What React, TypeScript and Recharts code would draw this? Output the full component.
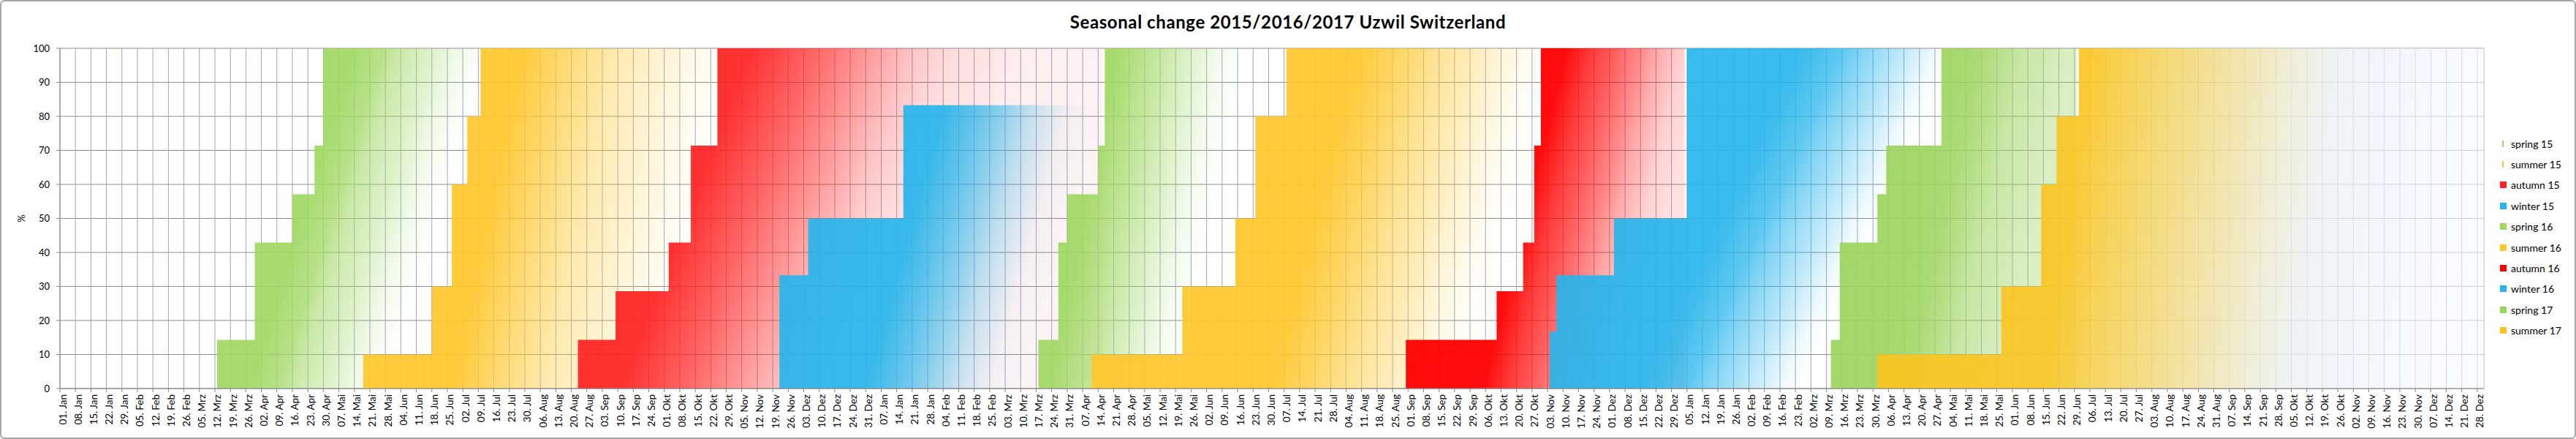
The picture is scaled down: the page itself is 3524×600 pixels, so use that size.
import React from 'react';
import { AreaChart, Area, XAxis, YAxis, CartesianGrid } from 'recharts';

const FONT = 'Lato, "Open Sans", sans-serif';
const MONTHS = ['Jan', 'Feb', 'Mrz', 'Apr', 'Mai', 'Jun', 'Jul', 'Aug', 'Sep', 'Okt', 'Nov', 'Dez'];
const START = '2015-01-01';
const END = '2017-12-31';
const Y_TICKS = [0, 10, 20, 30, 40, 50, 60, 70, 80, 90, 100];

// [date the level is reached, % of season indicators seen]; last entry = end of the series
type Step = [string, number];

const spring15: Step[] = [['2015-03-13', 14.3], ['2015-03-30', 42.9], ['2015-04-16', 57.1], ['2015-04-26', 71.4], ['2015-04-30', 100], ['2015-07-09', 100]];
const summer15: Step[] = [['2015-05-18', 10], ['2015-06-18', 30], ['2015-06-27', 60], ['2015-07-04', 80], ['2015-07-10', 100], ['2015-10-24', 100]];
const autumn15: Step[] = [['2015-08-23', 14.3], ['2015-09-09', 28.6], ['2015-10-03', 42.9], ['2015-10-13', 71.4], ['2015-10-25', 100], ['2016-04-16', 100]];
const winter15: Step[] = [['2015-11-22', 33.3], ['2015-12-05', 50], ['2016-01-17', 83.3], ['2016-04-13', 83.3]];
const spring16: Step[] = [['2016-03-18', 14.3], ['2016-03-27', 42.9], ['2016-03-31', 57.1], ['2016-04-14', 71.4], ['2016-04-17', 100], ['2016-06-15', 100]];
const summer16: Step[] = [['2016-04-11', 10], ['2016-05-22', 30], ['2016-06-15', 50], ['2016-06-24', 80], ['2016-07-08', 100], ['2016-10-30', 100]];
const autumn16: Step[] = [['2016-08-31', 14.3], ['2016-10-11', 28.6], ['2016-10-23', 42.9], ['2016-10-28', 71.4], ['2016-10-31', 100], ['2017-01-04', 100]];
const winter16: Step[] = [['2016-11-04', 16.7], ['2016-11-07', 33.3], ['2016-12-03', 50], ['2017-01-05', 100], ['2017-04-29', 100]];
const spring17: Step[] = [['2017-03-11', 14.3], ['2017-03-15', 42.9], ['2017-04-01', 57.1], ['2017-04-05', 71.4], ['2017-04-30', 100], ['2017-06-30', 100]];
const summer17: Step[] = [['2017-04-01', 10], ['2017-05-27', 30], ['2017-06-14', 60], ['2017-06-21', 80], ['2017-07-01', 100], ['2017-12-31', 100]];

const DAY_MS = 86400000;
const ORIGIN = Date.parse(START + 'T00:00:00Z');
const toDay = (iso: string) => (Date.parse(iso + 'T00:00:00Z') - ORIGIN) / DAY_MS;

const fmtDay = (day: number) => {
    const dt = new Date(ORIGIN + day * DAY_MS);
    return `${String(dt.getUTCDate()).padStart(2, '0')}. ${MONTHS[dt.getUTCMonth()]}`;
};

const weekTicks: number[] = [];
for (let d = 0; d <= toDay(END); d += 7) weekTicks.push(d);

// gradient stops: [offset, opacity, color?]
type Stop = [number, number, string?];

interface SeriesStyle {
    key: string;
    name: string;
    steps: Step[];
    color: string;
    tilt: number;
    stops: Stop[];
    legendW: number;
}

const SERIES: SeriesStyle[] = [
    { key: 'spring15', name: 'spring 15', steps: spring15, color: '#A0D862', tilt: 0.4, legendW: 2,
        stops: [[0, 0.92], [0.45, 0.92], [0.55, 0.75], [0.6, 0.55], [0.71, 0.34], [0.81, 0.12], [0.9, 0]] },
    { key: 'summer15', name: 'summer 15', steps: summer15, color: '#FFC72C', tilt: 0.2, legendW: 2,
        stops: [[0, 0.92], [0.44, 0.92], [0.53, 0.72], [0.62, 0.53], [0.69, 0.38], [0.78, 0.26], [0.87, 0.15], [0.95, 0.06], [1, 0.03]] },
    { key: 'autumn15', name: 'autumn 15', steps: autumn15, color: '#FF2020', tilt: 0.25, legendW: 9,
        stops: [[0, 0.92], [0.31, 0.92], [0.43, 0.68], [0.55, 0.39], [0.61, 0.25], [0.67, 0.16], [0.8, 0.08], [1, 0.05]] },
    { key: 'winter15', name: 'winter 15', steps: winter15, color: '#27B5EC', tilt: 0.25, legendW: 9,
        stops: [[0, 0.92], [0.49, 0.92], [0.58, 0.74], [0.67, 0.52], [0.75, 0.28], [0.86, 0.05], [1, 0]] },
    { key: 'spring16', name: 'spring 16', steps: spring16, color: '#A0D862', tilt: 0.35, legendW: 9,
        stops: [[0, 0.92], [0.36, 0.92], [0.55, 0.6], [0.7, 0.32], [0.83, 0.1], [0.95, 0]] },
    { key: 'summer16', name: 'summer 16', steps: summer16, color: '#FFC72C', tilt: 0.2, legendW: 9,
        stops: [[0, 0.92], [0.58, 0.92], [0.645, 0.77], [0.68, 0.68], [0.75, 0.49], [0.82, 0.34], [0.885, 0.18], [0.95, 0.05], [1, 0.02]] },
    { key: 'autumn16', name: 'autumn 16', steps: autumn16, color: '#FF0000', tilt: 0.3, legendW: 9,
        stops: [[0, 0.95], [0.53, 0.95], [0.615, 0.76], [0.68, 0.65], [0.725, 0.56], [0.78, 0.45], [0.826, 0.34], [0.88, 0.25], [0.917, 0.18], [1, 0.12]] },
    { key: 'winter16', name: 'winter 16', steps: winter16, color: '#27B5EC', tilt: 0.4, legendW: 9,
        stops: [[0, 0.92], [0.54, 0.92], [0.58, 0.88], [0.61, 0.81], [0.65, 0.74], [0.68, 0.62], [0.715, 0.51], [0.75, 0.4], [0.785, 0.29], [0.82, 0.18], [0.855, 0.07], [0.9, 0]] },
    { key: 'spring17', name: 'spring 17', steps: spring17, color: '#9DD45E', tilt: 0.3, legendW: 9,
        stops: [[0, 0.92], [0.44, 0.92], [0.55, 0.86], [0.615, 0.76], [0.67, 0.65], [0.725, 0.55], [0.79, 0.49], [0.845, 0.43], [0.9, 0.38], [1, 0.36]] },
    { key: 'summer17', name: 'summer 17', steps: summer17, color: '#FAC41F', tilt: 0.08, legendW: 9,
        stops: [[0, 0.92], [0.35, 0.92, '#FAC524'], [0.43, 0.9, '#F6D050'], [0.53, 0.88, '#F2DA80'], [0.61, 0.86, '#F0E2A8'],
            [0.68, 0.84, '#EEEBD0'], [0.76, 0.8, '#EAF0F4'], [0.89, 0.7, '#F0F5FC'], [1, 0.6, '#F6F9FF']] },
];

function DateTick({ x, y, payload }: any) {
    const bx = x + 8.5;
    return (
        <text x={bx} y={y} transform={`rotate(-90 ${bx} ${y})`} textAnchor="end"
              fontSize={13.5} fontFamily={FONT} fill="#000">
            {fmtDay(payload.value)}
        </text>
    );
}

function PercentLabel({ viewBox }: any) {
    const x = viewBox.x + 12;
    const y = viewBox.y + viewBox.height / 2;
    return (
        <text x={x} y={y} transform={`rotate(-90 ${x} ${y})`} textAnchor="middle"
              fontSize={13.5} fontFamily={FONT} fill="#000">%</text>
    );
}

export default function App() {
    return (
        <div style={{ position: 'absolute', left: 0, top: 0, width: 3524, height: 600, background: '#fff' }}>
            <div style={{
                position: 'absolute', left: 0, top: 18, width: 3524, textAlign: 'center',
                fontFamily: FONT, fontWeight: 700, fontSize: 24, lineHeight: '24px', letterSpacing: 0.6, color: '#000',
            }}>
                Seasonal change 2015/2016/2017 Uzwil Switzerland
            </div>
            <AreaChart width={3524} height={600} margin={{ top: 66, right: 126, bottom: 9, left: 22 }}>
                <defs>
                    {SERIES.map((s) => (
                        <linearGradient key={s.key} id={`fade-${s.key}`} x1="0" y1="0" x2="1" y2={s.tilt}>
                            {s.stops.map(([o, a, c], i) => (
                                <stop key={i} offset={o} stopColor={c ?? s.color} stopOpacity={a} />
                            ))}
                        </linearGradient>
                    ))}
                </defs>
                <CartesianGrid vertical={false} stroke="#8C8C8C" />
                <CartesianGrid horizontal={false} stroke="#93A8C6" />
                <XAxis
                    type="number"
                    dataKey="day"
                    domain={[0, toDay(END)]}
                    ticks={weekTicks}
                    interval={0}
                    allowDataOverflow
                    height={60}
                    tickSize={5}
                    tickMargin={3}
                    tick={<DateTick />}
                    axisLine={{ stroke: '#868686' }}
                    tickLine={{ stroke: '#868686' }}
                />
                <YAxis
                    type="number"
                    domain={[0, 100]}
                    ticks={Y_TICKS}
                    interval={0}
                    width={60}
                    tickSize={5}
                    tickMargin={9}
                    tick={{ fontSize: 13, fill: '#000', fontFamily: FONT }}
                    axisLine={{ stroke: '#868686' }}
                    tickLine={{ stroke: '#868686' }}
                    label={<PercentLabel />}
                />
                {SERIES.map((s) => (
                    <Area
                        key={s.key}
                        name={s.name}
                        data={s.steps.map(([d, v]) => ({ day: toDay(d), value: v }))}
                        dataKey="value"
                        type="stepAfter"
                        stroke="none"
                        fill={`url(#fade-${s.key})`}
                        fillOpacity={1}
                        baseValue={0}
                        dot={false}
                        activeDot={false}
                        isAnimationActive={false}
                    />
                ))}
            </AreaChart>
            <div style={{ position: 'absolute', left: 3420, top: 182, fontFamily: FONT, fontSize: 14, color: '#000' }}>
                {SERIES.map((s) => (
                    <div key={s.key} style={{ height: 28.4, display: 'flex', alignItems: 'center' }}>
                        <span style={{ display: 'inline-block', width: 9, height: 9, position: 'relative', marginRight: 6 }}>
                            <span style={{
                                position: 'absolute', left: s.legendW < 9 ? 3 : 0, top: 0,
                                width: s.legendW, height: 9, background: s.color,
                            }} />
                        </span>
                        <span>{s.name}</span>
                    </div>
                ))}
            </div>
            <div style={{
                position: 'absolute', left: 0, top: 0, width: 3524, height: 600, boxSizing: 'border-box',
                border: '2px solid #A6A6A6', borderRadius: 6, pointerEvents: 'none',
            }} />
        </div>
    );
}
